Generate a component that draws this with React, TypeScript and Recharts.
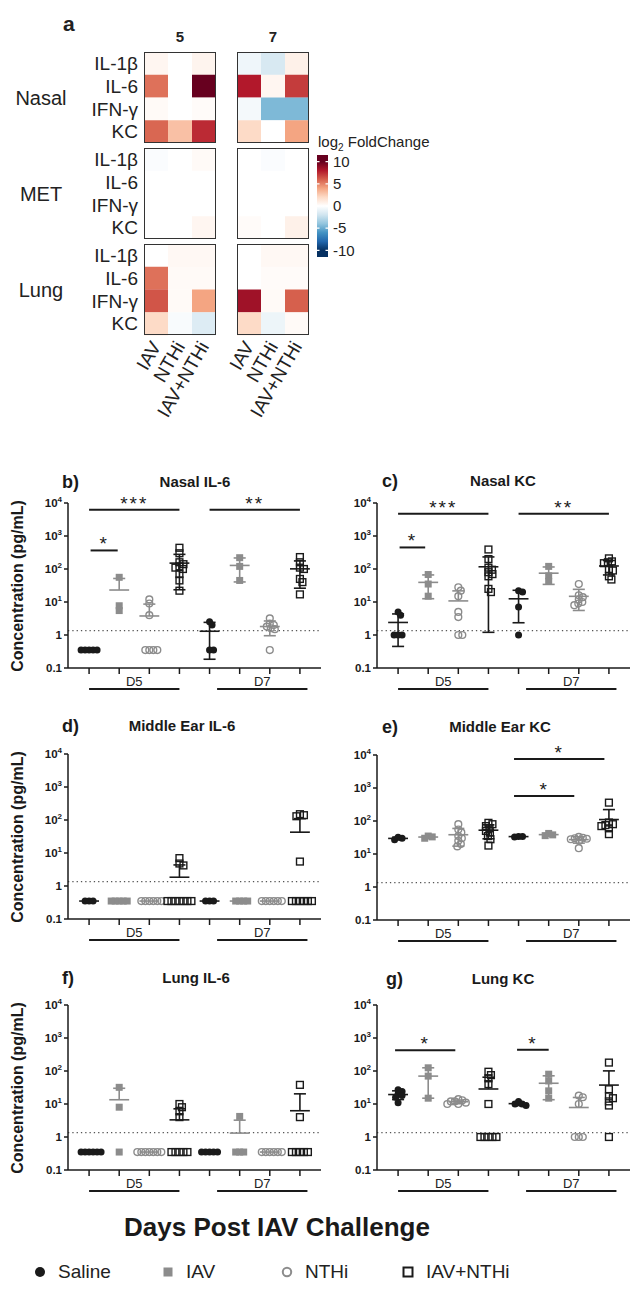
import React from "react";
import {
  BarChart,
  Bar,
  Cell,
  XAxis,
  YAxis,
  ScatterChart,
  Scatter,
  ReferenceLine,
} from "recharts";

const FONT = '"Liberation Sans", Arial, Helvetica, sans-serif';
const INK = "#1a1a1a";
const GREY = "#8c8c8c";

// ---------- panel a : heatmap (log2 fold change) ----------
const CYTOKINES = ["IL-1β", "IL-6", "IFN-γ", "KC"];
const TREATMENTS = ["IAV", "NTHi", "IAV+NTHi"];
const TISSUES = ["Nasal", "MET", "Lung"];

// rows = cytokines, columns = IAV, NTHi, IAV+NTHi
const nasalD5 = [[0.5, 0, 0.6], [5.5, 0, 10], [0.3, 0, 0.2], [5.8, 3, 7.5]];
const nasalD7 = [[-0.7, -1.7, 0.8], [8, 0.5, 7], [-0.5, -4.5, -4.5], [2, 0, 4]];
const metD5 = [[-0.2, 0, 0.3], [0, 0, 0], [0, 0, 0], [0, 0, 0.5]];
const metD7 = [[0, -0.2, 0], [0, 0, 0], [0, 0, 0], [0.2, 0, 0.8]];
const lungD5 = [[0, 0.4, 0.4], [5.5, 0.3, 0.3], [6.3, 0.3, 4], [2, -0.3, -1.5]];
const lungD7 = [[0, 0.4, 0.4], [0, 0.2, 0.2], [8.5, 0.3, 6], [2, -0.8, 0.3]];
const COLORBAR_TICKS = [-10, -5, 0, 5, 10];

// ---------- panels b-g : concentrations (pg/mL) ----------
// order: D5 Saline, IAV, NTHi, IAV+NTHi, D7 Saline, IAV, NTHi, IAV+NTHi
const nasalIL6 = [
  [0.35, 0.35, 0.35, 0.35, 0.35],
  [56, 7.7, 5.5],
  [12, 9, 4, 0.35, 0.35, 0.35, 0.35],
  [440, 300, 160, 140, 120, 110, 100, 70, 45, 22],
  [2.5, 2.0, 0.35, 0.35],
  [220, 120, 45],
  [3.2, 2.2, 2, 1.8, 1.6, 1.5, 0.35],
  [230, 160, 110, 100, 50, 40, 17],
];
const nasalKC = [
  [5, 4, 1, 1, 1],
  [68, 35, 15],
  [28, 22, 15, 5, 3.5, 1, 1],
  [390, 200, 110, 95, 80, 70, 60, 25, 20],
  [22, 20, 7, 1],
  [120, 62, 42],
  [35, 16, 14, 12, 10, 9, 8],
  [210, 170, 160, 150, 100, 90, 60, 48],
];
const middleEarIL6 = [
  [0.35, 0.35, 0.35],
  [0.35, 0.35, 0.35, 0.35, 0.35],
  [0.35, 0.35, 0.35, 0.35, 0.35, 0.35],
  [7, 4.8, 4.2, 0.35, 0.35, 0.35, 0.35, 0.35, 0.35, 0.35],
  [0.35, 0.35, 0.35],
  [0.35, 0.35, 0.35, 0.35],
  [0.35, 0.35, 0.35, 0.35, 0.35, 0.35],
  [150, 140, 130, 5.5, 0.35, 0.35, 0.35, 0.35, 0.35, 0.35],
];
const middleEarKC = [
  [27, 30, 32],
  [35, 33, 30],
  [80, 55, 45, 35, 30, 25, 20, 17],
  [88, 80, 70, 60, 50, 45, 35, 28, 18],
  [34, 34, 33],
  [42, 38, 36],
  [33, 31, 30, 29, 28, 25, 15],
  [360, 90, 80, 75, 70, 60, 40],
];
const lungIL6 = [
  [0.35, 0.35, 0.35, 0.35, 0.35, 0.35],
  [32, 8, 0.35],
  [0.35, 0.35, 0.35, 0.35, 0.35, 0.35, 0.35],
  [10, 8, 6, 4, 0.35, 0.35, 0.35, 0.35, 0.35],
  [0.35, 0.35, 0.35, 0.35, 0.35],
  [4.2, 0.35, 0.35, 0.35],
  [0.35, 0.35, 0.35, 0.35, 0.35, 0.35],
  [38, 4, 0.35, 0.35, 0.35, 0.35, 0.35],
];
const lungKC = [
  [27, 24, 20, 18, 16, 11],
  [125, 70, 15],
  [14, 13, 12, 12, 11, 10, 10],
  [95, 75, 60, 40, 10, 1, 1, 1, 1, 1],
  [12, 10, 10, 9],
  [80, 50, 25, 15],
  [18, 16, 10, 1, 1, 1],
  [180, 28, 17, 15, 12, 9, 1],
];

type Sig = { x1: number; x2: number; y: number; label: string };
const nasalIL6Sig: Sig[] = [
  { x1: 1, x2: 4, y: 6200, label: "***" },
  { x1: 5, x2: 8, y: 6200, label: "**" },
  { x1: 1.05, x2: 1.95, y: 365, label: "*" },
];
const nasalKCSig: Sig[] = [
  { x1: 1, x2: 4, y: 4700, label: "***" },
  { x1: 5, x2: 8, y: 4700, label: "**" },
  { x1: 1.05, x2: 1.9, y: 450, label: "*" },
];
const middleEarKCSig: Sig[] = [
  { x1: 4.85, x2: 7.85, y: 7500, label: "*" },
  { x1: 4.85, x2: 6.85, y: 575, label: "*" },
];
const lungKCSig: Sig[] = [
  { x1: 0.9, x2: 2.9, y: 425, label: "*" },
  { x1: 4.95, x2: 6, y: 440, label: "*" },
];

const LOD = 1.35;
const Y_TICKS = [0.1, 1, 10, 100, 1000, 10000];
const X_TICKS = [1, 2, 3, 4, 5, 6, 7, 8];
const GROUP_COLOR = [INK, GREY, GREY, INK];

// ---------- colour scale ----------
const RDBU: [number, string][] = [
  [-10, "#053061"], [-8, "#2166ac"], [-6, "#4393c3"], [-4, "#92c5de"], [-2, "#d1e5f0"],
  [0, "#ffffff"], [2, "#fddbc7"], [4, "#f4a582"], [6, "#d6604d"], [8, "#b2182b"], [10, "#67001f"],
];

function hexToRgb(h: string) {
  return [1, 3, 5].map((i) => parseInt(h.slice(i, i + 2), 16));
}

function rdbu(v: number) {
  const t = Math.max(-10, Math.min(10, v));
  for (let i = 0; i < RDBU.length - 1; i++) {
    const [a, ca] = RDBU[i];
    const [b, cb] = RDBU[i + 1];
    if (t >= a && t <= b) {
      const f = (t - a) / (b - a);
      const A = hexToRgb(ca);
      const B = hexToRgb(cb);
      const c = A.map((x, k) => Math.round(x + (B[k] - x) * f));
      return `rgb(${c[0]},${c[1]},${c[2]})`;
    }
  }
  return "#fff";
}

// ---------- heatmap boxes ----------
const BOX_W = 72;
const BOX_H = 91;

const HeatXTick = (p: any) => {
  const label = TREATMENTS[Math.floor(p.payload.value)];
  const y = p.y + 6;
  return (
    <text
      x={p.x}
      y={y}
      transform={`rotate(-60 ${p.x} ${y})`}
      textAnchor="end"
      dominantBaseline="central"
      fontSize={19}
      fill="#222"
      fontFamily={FONT}
    >
      {label}
    </text>
  );
};

function HeatBox({ vals, left, top, showY, showX }: {
  vals: number[][]; left: number; top: number; showY: boolean; showX: boolean;
}) {
  const rows = CYTOKINES.map((c, r) => ({ cyto: c, IAV: 1, NTHi: 1, "IAV+NTHi": 1, fc: vals[r] }));
  const yW = showY ? 70 : 0;
  const pad = showY ? 0 : 50; // room for rotated labels on the right block
  const xH = showX ? 100 : 0;
  return (
    <div style={{ position: "absolute", left: left - yW - pad, top }}>
      <BarChart
        layout="vertical"
        width={BOX_W + yW + pad}
        height={BOX_H + xH}
        data={rows}
        margin={{ top: 0, right: 0, bottom: 0, left: pad }}
        barCategoryGap={0}
        barGap={0}
      >
        <XAxis
          type="number"
          domain={[0, 3]}
          ticks={[0.5, 1.5, 2.5]}
          hide={!showX}
          height={xH}
          axisLine={false}
          tickLine={false}
          tickSize={0}
          interval={0}
          tick={HeatXTick}
        />
        <YAxis
          type="category"
          dataKey="cyto"
          hide={!showY}
          width={yW}
          axisLine={false}
          tickLine={false}
          tickSize={0}
          tickMargin={6}
          interval={0}
          tick={{ fontSize: 19, fill: "#222", fontFamily: FONT }}
        />
        {TREATMENTS.map((t, j) => (
          <Bar key={t} dataKey={t} stackId="s" isAnimationActive={false}>
            {rows.map((r, i) => (
              <Cell key={i} fill={rdbu(r.fc[j])} />
            ))}
          </Bar>
        ))}
      </BarChart>
      <div
        style={{
          position: "absolute",
          left: yW + pad,
          top: 0,
          width: BOX_W,
          height: BOX_H,
          border: "1.5px solid #333",
          boxSizing: "border-box",
        }}
      />
    </div>
  );
}

function ColorBar() {
  const stops = RDBU.slice().reverse();
  return (
    <div style={{ position: "absolute", left: 317, top: 150 }}>
      <BarChart
        width={60}
        height={112}
        data={[{ k: "c", range: [-11.5, 11.5] }]}
        margin={{ top: 5, right: 0, bottom: 5, left: 0 }}
        barCategoryGap={0}
      >
        <defs>
          <linearGradient id="cbar" x1="0" y1="0" x2="0" y2="1">
            {stops.map(([v, c]) => (
              <stop key={v} offset={(11.5 - v) / 23} stopColor={c} />
            ))}
          </linearGradient>
        </defs>
        <XAxis dataKey="k" hide />
        <YAxis
          orientation="right"
          type="number"
          domain={[-11.5, 11.5]}
          allowDataOverflow
          ticks={COLORBAR_TICKS}
          interval={0}
          width={49}
          axisLine={false}
          tickLine={false}
          tickSize={0}
          tickMargin={5}
          tick={{ fontSize: 15, fill: "#222", fontFamily: FONT }}
        />
        <Bar dataKey="range" fill="url(#cbar)" isAnimationActive={false} />
        {COLORBAR_TICKS.map((v) => (
          <ReferenceLine key={v} y={v} stroke="#fff" strokeWidth={1.2} strokeDasharray="2.5 6 2.5" />
        ))}
      </BarChart>
    </div>
  );
}

// ---------- scatter panels ----------
const PLOT_W = 253;
const PLOT_H = 165;
const Y_W = 38;
const M_TOP = 12;
const X_H = 36;
const M_BOT = 4;
const M_RIGHT = 5;
const CHART_W = Y_W + PLOT_W + M_RIGHT;
const CHART_H = M_TOP + PLOT_H + X_H + M_BOT;
const PX_UNIT = PLOT_W / 8.4;
const PX_DECADE = PLOT_H / 5;

// simple beeswarm: spread points that would overlap sideways
function swarm(vals: number[]) {
  const D = 4;
  const order = vals.map((_, i) => i).sort((a, b) => vals[b] - vals[a]);
  const placed: { x: number; y: number }[] = [];
  const dx = new Array(vals.length).fill(0);
  for (const i of order) {
    const y = Math.log10(vals[i]) * PX_DECADE;
    let best = 0;
    outer: for (let k = 0; k < 80; k++) {
      const cands = k === 0 ? [0] : [k * 0.5, -k * 0.5];
      for (const c of cands) {
        if (placed.every((p) => Math.hypot(p.x - c, p.y - y) >= D)) {
          best = c;
          break outer;
        }
      }
    }
    placed.push({ x: best, y });
    dx[i] = best / PX_UNIT;
  }
  return dx;
}

function meanSd(vals: number[]) {
  const m = vals.reduce((a, b) => a + b, 0) / vals.length;
  const s = Math.sqrt(vals.reduce((a, b) => a + (b - m) * (b - m), 0) / (vals.length - 1));
  return { m, s };
}

const EmptyTick = () => <g />;

const LogTick = (p: any) => {
  const v = p.payload.value;
  const e = Math.round(Math.log10(v));
  return (
    <text x={p.x} y={p.y} dy={4} textAnchor="end" fontSize={11.5} fontWeight="bold" fill={INK} fontFamily={FONT}>
      {v >= 10 ? (
        <>
          10<tspan dy={-5} fontSize={8}>{e}</tspan>
        </>
      ) : v === 1 ? "1" : "0.1"}
    </text>
  );
};

const SalineDot = (p: any) => <circle cx={p.cx} cy={p.cy} r={3.5} fill={INK} />;
const IavSquare = (p: any) => <rect x={p.cx - 3.5} y={p.cy - 3.5} width={7} height={7} fill={GREY} />;
const NthiCircle = (p: any) => (
  <circle cx={p.cx} cy={p.cy} r={3.4} fill="none" stroke={GREY} strokeWidth={1.4} />
);
const ComboSquare = (p: any) => (
  <rect x={p.cx - 3.4} y={p.cy - 3.4} width={6.8} height={6.8} fill="none" stroke={INK} strokeWidth={1.4} />
);
const SHAPES = [SalineDot, IavSquare, NthiCircle, ComboSquare];

type PanelProps = {
  left: number;
  top: number;
  letter: string;
  letterX: number;
  title: string;
  titleX: number;
  titleY: number;
  groups: number[][];
  sig: Sig[];
  yTitle?: boolean;
};

function ScatterPanel({ left, top, letter, letterX, title, titleX, titleY, groups, sig, yTitle }: PanelProps) {
  const pts: { x: number; y: number }[][] = [[], [], [], []];
  groups.forEach((vals, gi) => {
    const dx = swarm(vals);
    vals.forEach((v, k) => pts[gi % 4].push({ x: gi + 1 + dx[k], y: v }));
  });

  const segs: { a: [number, number]; b: [number, number]; col: string }[] = [];
  groups.forEach((vals, gi) => {
    const c = gi + 1;
    const col = GROUP_COLOR[gi % 4];
    const { m, s } = meanSd(vals);
    segs.push({ a: [c - 0.33, m], b: [c + 0.33, m], col });
    if (s > 0.001) {
      const hi = Math.min(m + s, 10000);
      segs.push({ a: [c, m], b: [c, hi], col });
      segs.push({ a: [c - 0.2, hi], b: [c + 0.2, hi], col });
      if (m - s > 0) {
        const lo = m - s;
        segs.push({ a: [c, lo], b: [c, m], col });
        segs.push({ a: [c - 0.2, lo], b: [c + 0.2, lo], col });
      }
    }
  });

  const under = 0.1 * Math.pow(10, -21 / PX_DECADE);
  const days = [
    { x1: 1, x2: 4, label: "D5" },
    { x1: 5.25, x2: 8.25, label: "D7" },
  ];

  return (
    <>
      <div
        style={{
          position: "absolute",
          left: letterX,
          top: titleY - 11,
          height: 22,
          lineHeight: "22px",
          fontSize: 18,
          fontWeight: "bold",
          fontFamily: FONT,
          color: INK,
        }}
      >
        {letter}
      </div>
      <div
        style={{
          position: "absolute",
          left: titleX - 110,
          width: 220,
          top: titleY - 10,
          height: 20,
          lineHeight: "20px",
          textAlign: "center",
          fontSize: 15,
          fontWeight: "bold",
          fontFamily: FONT,
          color: INK,
        }}
      >
        {title}
      </div>
      {yTitle && (
        <div
          style={{
            position: "absolute",
            left: 18 - 120,
            top: top + PLOT_H / 2 - 10,
            width: 240,
            height: 20,
            lineHeight: "20px",
            textAlign: "center",
            transform: "rotate(-90deg)",
            fontSize: 16,
            fontWeight: "bold",
            fontFamily: FONT,
            color: INK,
            whiteSpace: "nowrap",
          }}
        >
          Concentration (pg/mL)
        </div>
      )}
      <div style={{ position: "absolute", left, top: top - M_TOP }}>
        <ScatterChart
          width={CHART_W}
          height={CHART_H}
          margin={{ top: M_TOP, right: M_RIGHT, bottom: M_BOT, left: 0 }}
        >
          <XAxis
            type="number"
            dataKey="x"
            domain={[0.3, 8.7]}
            ticks={X_TICKS}
            interval={0}
            allowDataOverflow
            height={X_H}
            tickSize={6}
            tick={EmptyTick}
            stroke={INK}
            strokeWidth={1.5}
          />
          <YAxis
            type="number"
            dataKey="y"
            scale="log"
            domain={[0.1, 10000]}
            ticks={Y_TICKS}
            interval={0}
            allowDataOverflow
            width={Y_W}
            tickSize={4}
            tickMargin={2}
            tick={LogTick}
            stroke={INK}
            strokeWidth={1.5}
          />
          <ReferenceLine y={LOD} stroke="#555" strokeWidth={1.2} strokeDasharray="1.3 3" />
          {days.map((d) => (
            <ReferenceLine
              key={d.label}
              segment={[{ x: d.x1, y: under }, { x: d.x2, y: under }]}
              ifOverflow="visible"
              stroke={INK}
              strokeWidth={2}
              label={{ value: d.label, position: "top", offset: 3, fontSize: 13, fill: "#222", fontFamily: FONT }}
            />
          ))}
          {sig.map((s, i) => (
            <ReferenceLine
              key={`sig${i}`}
              segment={[{ x: s.x1, y: s.y }, { x: s.x2, y: s.y }]}
              ifOverflow="visible"
              stroke={INK}
              strokeWidth={2}
              label={{ value: s.label, position: "top", offset: 0, fontSize: 19, fill: INK, fontFamily: FONT, letterSpacing: 2 }}
            />
          ))}
          {SHAPES.map((shape, t) => (
            <Scatter key={t} data={pts[t]} shape={shape} isAnimationActive={false} />
          ))}
          {segs.map((s, i) => (
            <ReferenceLine
              key={`e${i}`}
              segment={[{ x: s.a[0], y: s.a[1] }, { x: s.b[0], y: s.b[1] }]}
              ifOverflow="hidden"
              stroke={s.col}
              strokeWidth={1.6}
            />
          ))}
        </ScatterChart>
      </div>
    </>
  );
}

const LEGEND = [
  { label: "Saline", x: 40 },
  { label: "IAV", x: 168 },
  { label: "NTHi", x: 287 },
  { label: "IAV+NTHi", x: 408 },
];

function LegendMarker({ i }: { i: number }) {
  return (
    <svg width={14} height={14} style={{ position: "absolute", left: -7, top: -7 }}>
      {i === 0 && <circle cx={7} cy={7} r={5} fill={INK} />}
      {i === 1 && <rect x={2.5} y={2.5} width={9} height={9} fill={GREY} />}
      {i === 2 && <circle cx={7} cy={7} r={4.2} fill="none" stroke={GREY} strokeWidth={2} />}
      {i === 3 && <rect x={2.5} y={2.5} width={9} height={9} fill="none" stroke={INK} strokeWidth={2} />}
    </svg>
  );
}

export default function App() {
  const txt = (extra: React.CSSProperties): React.CSSProperties => ({
    position: "absolute",
    fontFamily: FONT,
    color: "#222",
    whiteSpace: "nowrap",
    ...extra,
  });
  const tissueTops = [52, 148, 244];
  const d5 = [nasalD5, metD5, lungD5];
  const d7 = [nasalD7, metD7, lungD7];

  return (
    <div
      style={{
        position: "absolute",
        left: 0,
        top: 0,
        width: 639,
        height: 1293,
        overflow: "hidden",
        background: "#fff",
      }}
    >
      {/* panel a */}
      <div style={txt({ left: 63, top: 12, fontSize: 21, fontWeight: "bold" })}>a</div>
      <div style={txt({ left: 170, top: 28, width: 20, textAlign: "center", fontSize: 15, fontWeight: "bold" })}>5</div>
      <div style={txt({ left: 263, top: 28, width: 20, textAlign: "center", fontSize: 15, fontWeight: "bold" })}>7</div>
      {TISSUES.map((t, i) => (
        <div
          key={t}
          style={txt({
            left: 0,
            width: 82,
            textAlign: "center",
            top: tissueTops[i] + BOX_H / 2 - 12,
            height: 24,
            lineHeight: "24px",
            fontSize: 20,
          })}
        >
          {t}
        </div>
      ))}
      {tissueTops.map((top, i) => (
        <React.Fragment key={i}>
          <HeatBox vals={d5[i]} left={144} top={top} showY showX={i === 2} />
          <HeatBox vals={d7[i]} left={237} top={top} showY={false} showX={i === 2} />
        </React.Fragment>
      ))}
      <div style={txt({ left: 318, top: 133, fontSize: 15 })}>
        log<sub style={{ fontSize: 10 }}>2</sub> FoldChange
      </div>
      <ColorBar />

      {/* panels b-g */}
      <ScatterPanel left={30} top={503} letter="b)" letterX={62} title="Nasal IL-6" titleX={195} titleY={482}
        groups={nasalIL6} sig={nasalIL6Sig} yTitle />
      <ScatterPanel left={339} top={503} letter="c)" letterX={382} title="Nasal KC" titleX={503} titleY={481}
        groups={nasalKC} sig={nasalKCSig} />
      <ScatterPanel left={30} top={754} letter="d)" letterX={62} title="Middle Ear IL-6" titleX={182} titleY={726}
        groups={middleEarIL6} sig={[]} yTitle />
      <ScatterPanel left={339} top={755} letter="e)" letterX={382} title="Middle Ear KC" titleX={500} titleY={727}
        groups={middleEarKC} sig={middleEarKCSig} />
      <ScatterPanel left={30} top={1005} letter="f)" letterX={62} title="Lung IL-6" titleX={196} titleY={978}
        groups={lungIL6} sig={[]} yTitle />
      <ScatterPanel left={339} top={1005} letter="g)" letterX={386} title="Lung KC" titleX={503} titleY={979}
        groups={lungKC} sig={lungKCSig} />

      <div
        style={txt({
          left: 0,
          width: 554,
          top: 1212,
          textAlign: "center",
          fontSize: 26,
          fontWeight: "bold",
          color: INK,
        })}
      >
        Days Post IAV Challenge
      </div>
      {LEGEND.map((l, i) => (
        <div key={l.label} style={{ position: "absolute", left: l.x, top: 1272 }}>
          <LegendMarker i={i} />
          <div style={txt({ left: 18, top: -12, height: 24, lineHeight: "24px", fontSize: 19 })}>{l.label}</div>
        </div>
      ))}
    </div>
  );
}
